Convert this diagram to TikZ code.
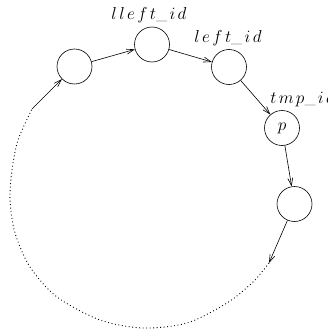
\documentclass[tikz,border=0pt]{standalone}
\usetikzlibrary{arrows.meta}
\tikzset{
  >={Straight Barb[length=7.5pt,width=5pt]},
  every node/.style={font=\fontsize{16}{18}\selectfont},
  cell/.style={draw,circle,minimum size=35pt,inner sep=0pt},
  link/.style={->,line width=0.6pt},
  ring/.style={line width=0.9pt,dash pattern=on 0.9pt off 2.6pt},
  idlabel/.style={inner sep=0pt,anchor=base},
}
\newcommand{\ls}{\mkern2.5mu}
\begin{document}
\begin{tikzpicture}[x=1pt,y=-1pt,line width=0.6pt]
  \useasboundingbox (0,0) rectangle (327,329);
  % list cells
  \node[cell] (prev) at (74.5,66.5) {};
  \node[cell] (lleft) at (152,44.5) {};
  \node[cell] (left) at (229,67) {};
  \node[cell] (tmp) at (282,128) {$p$};
  \node[cell] (next) at (294.5,204) {};
  % pointer names
  \node[idlabel] (lleftname) at (149,20) {$l\ls l\ls e\ls f\ls t\_\ls i\ls d$};
  \node[idlabel] (leftname) at (228,43) {$l\ls e\ls f\ls t\_\ls i\ls d$};
  \node[idlabel,anchor=base west] (tmpname) at (270,103) {$t\ls m\ls p\_\ls i\ls d$};
  % links
  \coordinate (tail) at (32,109);
  \coordinate (head) at (269,263);
  \draw[link] (tail) -- (prev);
  \draw[link] (prev) -- (lleft);
  \draw[link] (lleft) -- (left);
  \draw[link] (left) -- (tmp);
  \draw[link] (tmp) -- (next);
  \draw[link] (next) -- (head);
  % rest of the ring
  \draw[ring] plot[smooth] coordinates {(head) (253,282) (227,303) (187,323) (143,328) (100,320)
    (57,297) (30,267) (15,233) (10,200) (12,170) (18,140) (tail)};
\end{tikzpicture}
\end{document}
